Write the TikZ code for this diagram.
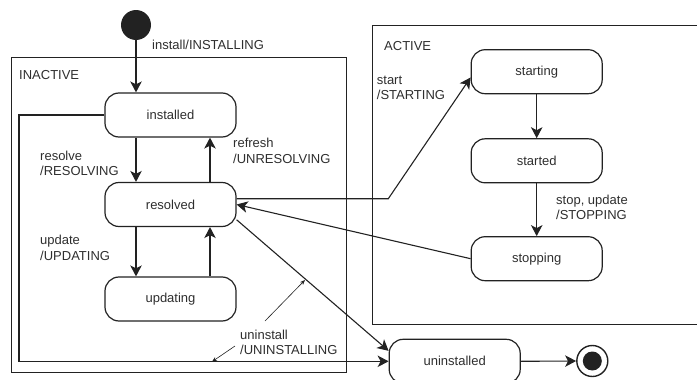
\documentclass[tikz,border=0pt]{standalone}
\usepackage{fontspec}
\setmainfont{Liberation Sans}
\usetikzlibrary{arrows.meta}
\definecolor{ink}{HTML}{222222}
\definecolor{txt}{HTML}{2E2E2E}
\newcommand\twoline[2]{\begin{tabular}[t]{@{}l@{}}#1\\#2\end{tabular}}
\begin{document}
\begin{tikzpicture}[x=1pt,y=-1pt,
  font=\fontsize{13}{15.6}\selectfont,
  state/.style={draw=ink, line width=1.2pt, rounded corners=14pt,
    minimum width=131pt, minimum height=44pt, inner sep=0pt, text=txt},
  frame/.style={draw=ink, line width=1.1pt, inner sep=0pt, anchor=north west},
  lbl/.style={anchor=base west, inner sep=0pt, text=txt},
  arr/.style={draw=ink, line width=1.1pt,
    -{Stealth[length=11pt,width=11.5pt,inset=3pt]}},
  ptr/.style={draw=ink, line width=0.6pt,
    -{Stealth[length=5pt,width=4pt,inset=1.5pt]}},
]
\useasboundingbox (0,0) rectangle (697,380);
\clip (0,0) rectangle (697,380);

% composite states
\node[frame, minimum width=335pt, minimum height=315pt] (inactive) at (11,57) {};
\node[frame, minimum width=360pt, minimum height=298.5pt] (active) at (371.7,25) {};
\node[lbl] (inactivelbl) at (19,79) {INACTIVE};
\node[lbl] (activelbl) at (384,50) {ACTIVE};

% pseudo states
\node[circle, fill=ink, minimum size=30pt, inner sep=0pt] (init) at (136,25) {};
\node[circle, draw=ink, line width=1.4pt, minimum size=31pt, inner sep=0pt,
  path picture={\fill[ink] (path picture bounding box.center) circle (9.5pt);}]
  (final) at (592.3,361) {};

% states
\node[state] (installed) at (170.5,115) {installed};
\node[state] (resolved) at (170.5,204.5) {resolved};
\node[state] (updating) at (170.5,299) {updating};
\node[state] (starting) at (536.7,71.7) {starting};
\node[state] (started) at (536.7,160.8) {started};
\node[state] (stopping) at (536.7,258.7) {stopping};
\node[state] (uninstalled) at (454.7,361.3) {uninstalled};

% routing helpers
\coordinate (loopx) at (19,0);
\coordinate (bendx) at (388.3,0);

% transitions
\draw[arr] (init.south) -- (init.south |- installed.north);
\draw[arr] ([xshift=-34.5pt]installed.south) -- ([xshift=-34.5pt]resolved.north);
\draw[arr] ([xshift=39.5pt]resolved.north) -- ([xshift=39.5pt]installed.south);
\draw[arr] ([xshift=-34.5pt]resolved.south) -- ([xshift=-34.5pt]updating.north);
\draw[arr] ([xshift=39.5pt]updating.north) -- ([xshift=39.5pt]resolved.south);
\draw[arr] (installed.west) -- (installed.west -| loopx) |- (uninstalled.west);
\draw[arr] (resolved.-13) -- (uninstalled.171);
\draw[arr] (resolved.5) -- (resolved.5 -| bendx) -- (starting.185);
\draw[arr] (stopping.west) -- (resolved.east);
\draw[arr] (starting.south) -- (started.north);
\draw[arr] (started.south) -- (stopping.north);
\draw[arr] (uninstalled.east) -- (final.west);

% transition labels
\node[lbl] (installlbl) at (152,49.3) {install/INSTALLING};
\node[lbl] (resolvelbl) at (40,160) {\twoline{resolve}{/RESOLVING}};
\node[lbl] (refreshlbl) at (233,147.7) {\twoline{refresh}{/UNRESOLVING}};
\node[lbl] (updatelbl) at (40,244.5) {\twoline{update}{/UPDATING}};
\node[lbl] (uninstalllbl) at (240,339) {\twoline{uninstall}{/UNINSTALLING}};
\node[lbl] (startlbl) at (376.7,84.3) {\twoline{start}{/STARTING}};
\node[lbl] (stoplbl) at (556,204) {\twoline{stop, update}{/STOPPING}};

% leaders from the uninstall label to its two transitions
\coordinate (ptrA) at (265,321);
\coordinate (ptrAend) at (305,280);
\coordinate (ptrB) at (235,346);
\coordinate (ptrBend) at (212,361.7);
\draw[ptr] (ptrA) -- (ptrAend);
\draw[ptr] (ptrB) -- (ptrBend);
\end{tikzpicture}
\end{document}
